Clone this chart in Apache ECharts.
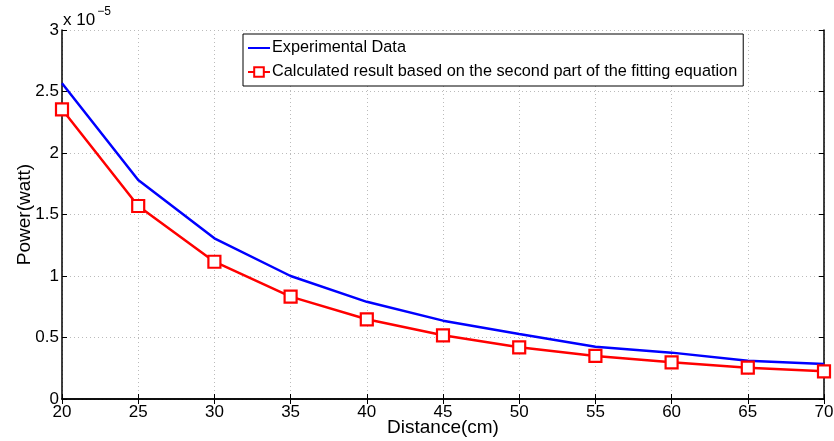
<!DOCTYPE html>
<html>
<head>
<meta charset="utf-8">
<script src="https://cdn.jsdelivr.net/npm/echarts@6/dist/echarts.min.js"></script>
<style>
html,body{margin:0;padding:0;background:#fff;}
#chart{width:834px;height:441px;}
</style>
</head>
<body>
<div id="chart"></div>
<script>
// Distance in cm
const distances = [20, 25, 30, 35, 40, 45, 50, 55, 60, 65, 70];
// Power values in units of 1e-5 W
const experimental = [2.567, 1.78, 1.306, 1.0, 0.79, 0.637, 0.528, 0.425, 0.377, 0.311, 0.285];
const calculated = [2.355, 1.569, 1.116, 0.832, 0.648, 0.518, 0.42, 0.35, 0.298, 0.255, 0.225];
const yTicks = [0, 0.5, 1, 1.5, 2, 2.5, 3];
const seriesNames = ['Experimental Data', 'Calculated result based on the second part of the fitting equation'];

const font = 'Liberation Sans, Arial, Helvetica, sans-serif';
const chart = echarts.init(document.getElementById('chart'));

const pair = arr => distances.map((d, i) => [d, arr[i]]);

chart.setOption({
  animation: false,
  backgroundColor: '#fff',
  grid: { left: 62, right: 10, top: 30, bottom: 42, show: false, containLabel: false, outerBoundsMode: 'none' },
  legend: {
    left: 243, top: 34,
    orient: 'vertical',
    backgroundColor: '#fff',
    borderColor: '#000', borderWidth: 1,
    padding: [6, 6, 6, 4],
    itemGap: 8,
    itemWidth: 22, itemHeight: 12,
    textStyle: { fontFamily: font, fontSize: 16.3, color: '#000', padding: [0, 0, 0, -3] },
    data: [
      { name: seriesNames[0], itemStyle: { opacity: 0 } },
      { name: seriesNames[1] }
    ]
  },
  xAxis: [{
    type: 'value', min: 20, max: 70, interval: 5,
    name: 'Distance(cm)', nameLocation: 'middle', nameGap: 19, nameMoveOverlap: false,
    nameTextStyle: { fontFamily: font, fontSize: 19, color: '#000' },
    axisLine: { lineStyle: { color: '#000', width: 1.5 } },
    axisTick: { inside: true, length: 5, lineStyle: { color: '#000' } },
    axisLabel: { fontFamily: font, fontSize: 17, color: '#000', margin: 5 },
    splitLine: { show: true, lineStyle: { color: '#bbb', type: [1, 3], width: 1 } }
  }, {
    type: 'value', min: 20, max: 70, interval: 5, position: 'top',
    axisLine: { show: true, lineStyle: { color: '#000', width: 1.5 } },
    axisTick: { inside: true, length: 5, lineStyle: { color: '#000' } },
    axisLabel: { show: false }, splitLine: { show: false }
  }],
  yAxis: [{
    type: 'value', min: 0, max: 3, interval: 0.5,
    name: 'Power(watt)', nameLocation: 'middle', nameGap: 28, nameRotate: 90, nameMoveOverlap: false,
    nameTextStyle: { fontFamily: font, fontSize: 19, color: '#000' },
    axisLine: { show: true, lineStyle: { color: '#000', width: 1.5 } },
    axisTick: { inside: true, length: 5, lineStyle: { color: '#000' } },
    axisLabel: { fontFamily: font, fontSize: 17, color: '#000', margin: 3,
      formatter: v => yTicks.includes(v) ? String(v) : '' },
    splitLine: { show: true, lineStyle: { color: '#bbb', type: [1, 3], width: 1 } }
  }, {
    type: 'value', min: 0, max: 3, interval: 0.5, position: 'right',
    axisLine: { show: true, lineStyle: { color: '#000', width: 1.5 } },
    axisTick: { inside: true, length: 5, lineStyle: { color: '#000' } },
    axisLabel: { show: false }, splitLine: { show: false }
  }],
  graphic: [{
    type: 'text', left: 63, top: 6,
    style: {
      text: '{a|x 10}{b|−5}',
      rich: {
        a: { fontFamily: font, fontSize: 17, fill: '#000', verticalAlign: 'bottom' },
        b: { fontFamily: font, fontSize: 12, fill: '#000', padding: [0, 0, 11, 2] }
      }
    }
  }],
  series: [{
    name: seriesNames[0], type: 'line', data: pair(experimental),
    showSymbol: false, symbol: 'none',
    lineStyle: { color: '#0000ff', width: 2.5 }, itemStyle: { color: '#0000ff' }
  }, {
    name: seriesNames[1], type: 'line', data: pair(calculated),
    symbol: 'rect', symbolSize: 12,
    lineStyle: { color: '#ff0000', width: 2.5 },
    itemStyle: { color: '#fff', borderColor: '#ff0000', borderWidth: 2.2 }
  }]
});
</script>
</body>
</html>
